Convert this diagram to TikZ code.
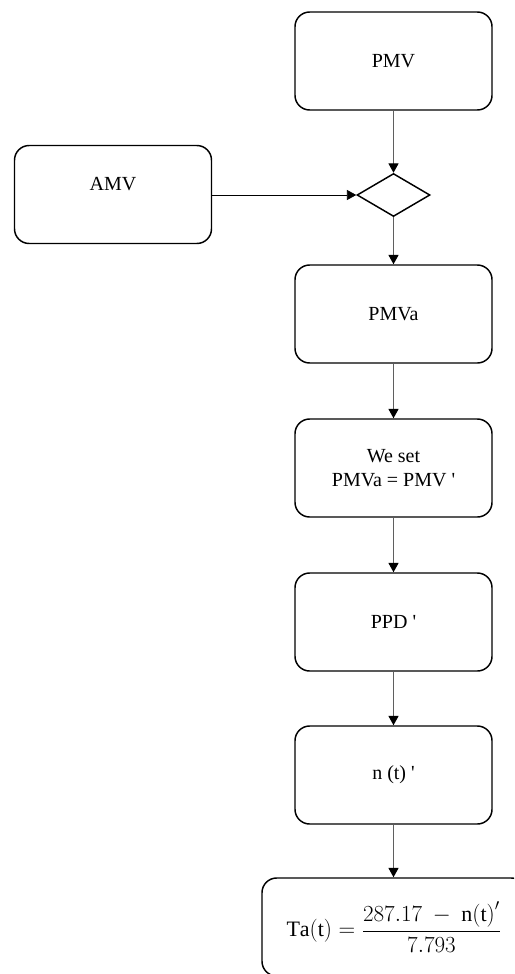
\documentclass[tikz,border=0pt]{standalone}
\usepackage{fontspec}
\setmainfont{Liberation Serif}
\usetikzlibrary{arrows.meta,shapes.geometric}
\definecolor{lineg}{RGB}{95,95,95}
\begin{document}
\begin{tikzpicture}[x=0.75pt,y=-0.75pt,
  font=\fontsize{15}{18}\selectfont,
  box/.style={draw=black, line width=1.1pt, rounded corners=11pt,
    minimum width=147.75pt, minimum height=73.5pt, inner sep=0pt, align=center},
  conn/.style={draw=lineg, line width=0.8pt, -{Triangle[length=7pt,width=7.5pt,color=black]}},
  hconn/.style={draw=black, line width=0.6pt, -{Triangle[length=7pt,width=7.5pt,color=black]}},
  plain/.style={inner sep=0pt}]
\useasboundingbox (0,0) rectangle (514,974);
\clip (0,0) rectangle (514,974);
\node[box] (pmv) at (393.5,61) {PMV};
\node[box] (amv) at (113,194.5) {};
\node[plain] (amvt) at (113,184) {AMV};
\node[draw=black, line width=1.1pt, shape=diamond, inner sep=0pt,
      minimum width=54.75pt, minimum height=32.25pt] (dia) at (393.5,195) {};
\node[box] (pmva) at (393.5,314) {PMVa};
\node[box] (set) at (393.5,468) {We set\\PMVa = PMV \textquotesingle};
\node[box] (ppd) at (393.5,622) {PPD \textquotesingle};
\node[box] (nt) at (393.5,775) {n (t) \textquotesingle};
\node[box, minimum width=198pt, font=\fontsize{16.5}{20}\selectfont] (ta) at (394,927)
  {$\displaystyle\mathrm{Ta(t)} = \frac{287.17\ -\ \mathrm{n(t)}'}{7.793}$};
\draw[conn] (pmv.south) -- (dia.north);
\draw[hconn] (amv.east |- dia.west) -- (dia.west);
\draw[conn] (dia.south) -- (pmva.north);
\draw[conn] (pmva.south) -- (set.north);
\draw[conn] (set.south) -- (ppd.north);
\draw[conn] (ppd.south) -- (nt.north);
\draw[conn] (nt.south) -- (ta.north -| nt.south);
\end{tikzpicture}
\end{document}
